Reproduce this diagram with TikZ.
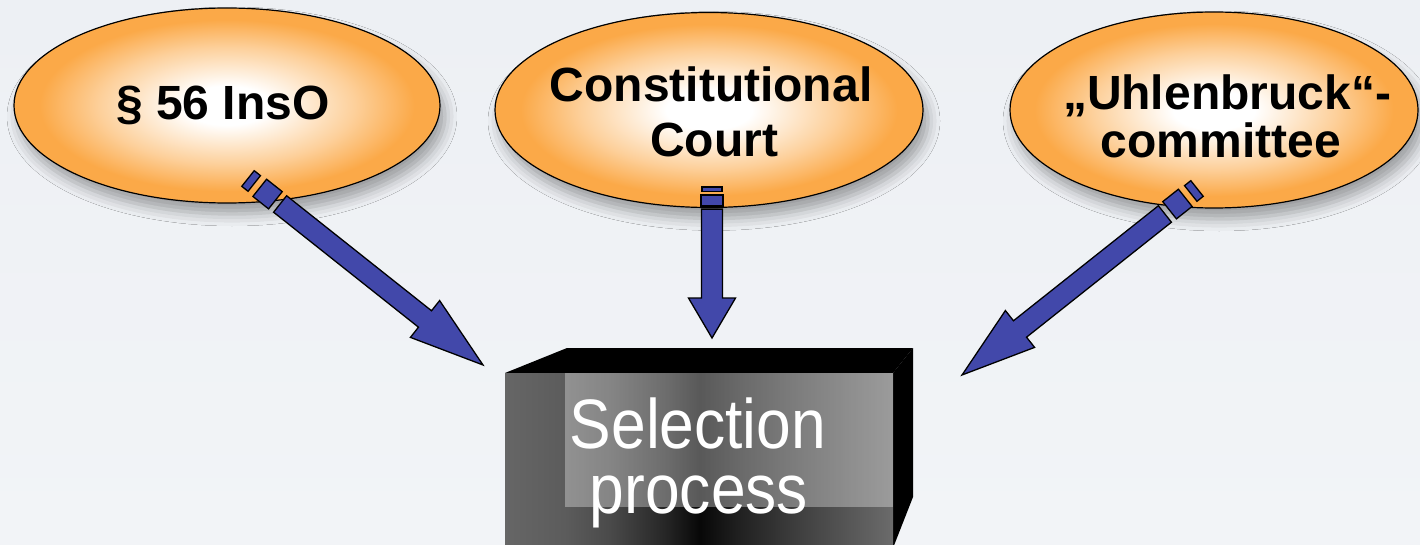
\documentclass[tikz,border=0pt]{standalone}
\usepackage{fontspec}
\setmainfont{Liberation Sans}
\newfontfamily\boxfont[FakeStretch=0.89]{Liberation Sans}
\usetikzlibrary{shapes.geometric,shadows.blur,calc}

\definecolor{bgtop}{RGB}{237,240,244}
\definecolor{bgbot}{RGB}{242,244,247}
\definecolor{ellorange}{RGB}{251,169,72}
\definecolor{arrowblue}{RGB}{66,72,170}

% white core fading into orange towards the rim
\pgfdeclareradialshading{orangeglow}{\pgfpoint{0bp}{0bp}}{%
  color(0bp)=(white); color(5bp)=(white);
  color(15bp)=(ellorange!55!white); color(22bp)=(ellorange);
  color(50bp)=(ellorange)}

% steel-grey front of the box, darkest in the middle
\pgfdeclarehorizontalshading{steelfront}{100bp}{%
  color(0bp)=(black!60); color(25bp)=(black!60);
  color(32.7bp)=(black!64); color(38.5bp)=(black!71);
  color(45.6bp)=(black!85); color(50.1bp)=(black!97);
  color(55.3bp)=(black!87); color(63bp)=(black!75);
  color(75bp)=(black!58); color(100bp)=(black!58)}

\tikzset{
  bubble/.style={ellipse, draw=black, line width=1.2pt, inner sep=0pt,
    shade, shading=orangeglow,
    blur shadow={shadow xshift=5pt, shadow yshift=-11pt,
      shadow blur radius=12pt, shadow opacity=35}},
  bubbletext/.style={font=\fontsize{48}{56}\selectfont\bfseries,
    anchor=base, inner sep=0pt},
  boxlabel/.style={font=\boxfont\fontsize{70}{80}\selectfont,
    text=white, anchor=base, inner sep=0pt},
  arrowbody/.style={fill=arrowblue, draw=black, line width=1.3pt,
    line join=miter},
  boxside/.style={fill=black},
}

% broken block arrow: short bar, square, then shaft with a wide head
% #1 start, #2 tip, #3 lengthwise scale of the bar/square/head
\newcommand\blockarrow[3]{%
  \path (#1); \pgfgetlastxy{\bax}{\bay}
  \path (#2); \pgfgetlastxy{\bbx}{\bby}
  \pgfmathsetmacro\baang{atan2((\bby)-(\bay),(\bbx)-(\bax))}
  \pgfmathsetmacro\balen{veclen((\bbx)-(\bax),(\bby)-(\bay))}
  \pgfmathsetmacro\bahead{\balen-74*#3}
  \begin{scope}[shift={(#1)}, rotate=\baang, x=1pt, y=1pt]
    \draw[arrowbody] (0,-10) rectangle ({8*#3},10);
    \draw[arrowbody] ({15*#3},-11) rectangle ({35*#3},11);
    \draw[arrowbody] ({41*#3},-10.5) -- (\bahead,-10.5) -- (\bahead,-23.5)
      -- (\balen,0) -- (\bahead,23.5) -- (\bahead,10.5) -- ({41*#3},10.5) -- cycle;
  \end{scope}}

\begin{document}
\begin{tikzpicture}[x=1pt, y=-1pt]
  \useasboundingbox (0,0) rectangle (1420,545);
  \clip (0,0) rectangle (1420,545);
  \shade[top color=bgtop, bottom color=bgbot] (0,0) rectangle (1420,545);

  % the box that receives the three inputs
  \fill[boxside] (505,373) -- (567,348) -- (913,348) -- (893,373) -- cycle;
  \fill[boxside] (893,373) -- (913,348) -- (913,497) -- (893,548) -- cycle;
  \shade[shading=steelfront] (505,373) rectangle (893,548);
  \fill[white, opacity=0.33] (565,373) rectangle (893,507);
  \node[boxlabel] (sel1) at (698,448) {Selection};
  \node[boxlabel] (sel2) at (699,513) {process};

  % the three sources
  \node[bubble, minimum width=426, minimum height=195] (law) at (227,105.5) {};
  \node[bubble, minimum width=428, minimum height=195] (court) at (709,110) {};
  \node[bubble, minimum width=408, minimum height=196] (comm) at (1214,110) {};

  \node[bubbletext] (lawt) at (223,120) {§ 56 InsO};
  \node[bubbletext] (courta) at (711,102) {Constitutional};
  \node[bubbletext] (courtb) at (714,157) {Court};
  \node[bubbletext] (comma) at (1227,110) {„Uhlenbruck“-};
  \node[bubbletext] (commb) at (1221,158) {committee};

  % arrow ends
  \coordinate (s1) at (248,178.5);
  \coordinate (e1) at (483,365);
  \coordinate (s2) at (712,187);
  \coordinate (e2) at (712,338);
  \coordinate (s3) at (1197,188.5);
  \coordinate (e3) at (962,375);

  \blockarrow{s1}{e1}{1}
  \blockarrow{s2}{e2}{0.54}
  \blockarrow{s3}{e3}{1}
\end{tikzpicture}
\end{document}
